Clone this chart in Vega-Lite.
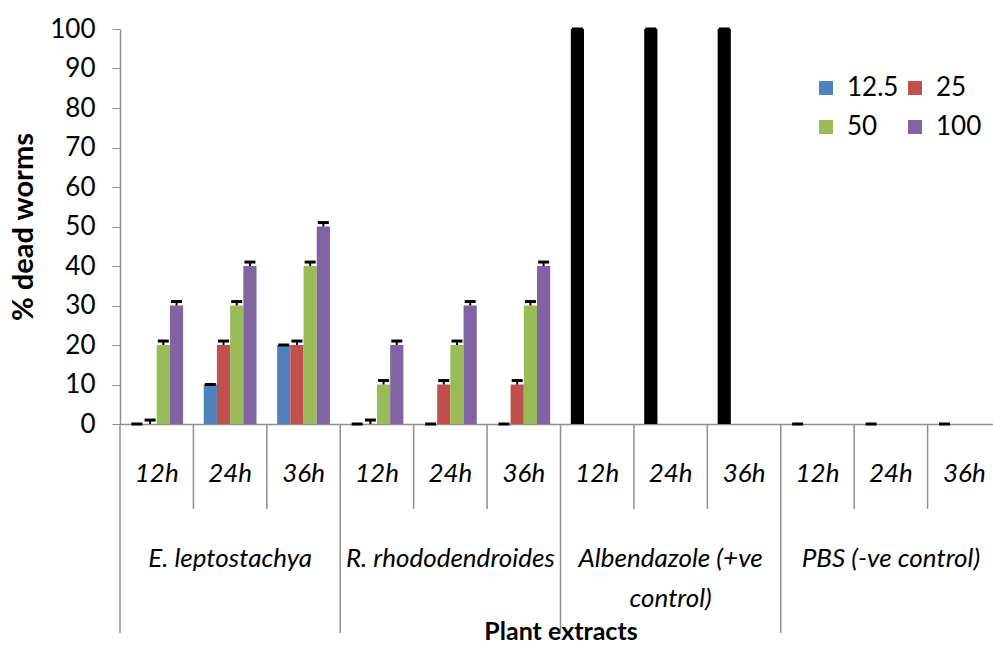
{
  "$schema": "https://vega.github.io/schema/vega-lite/v6.json",
  "width": 873,
  "height": 395,
  "autosize": {"type": "none"},
  "padding": {"left": 120, "top": 29, "right": 0, "bottom": 221},
  "background": "white",
  "config": {
    "font": "Lato",
    "view": {"stroke": null},
    "axis": {"domainColor": "#8f8f8f", "domainWidth": 1.5, "tickColor": "#8f8f8f", "labelColor": "#000000", "titleColor": "#000000", "grid": false},
    "axisY": {"labelOverlap": false, "labelBound": false, "labelFlush": false, "tickSize": 8, "labelFontSize": 26, "labelPadding": 17, "titleFontSize": 29, "titleFontWeight": "bold", "titlePadding": 11}
  },
  "datasets": {
    "mortality": [
      {"group": "E. leptostachya 12h", "extract": "E. leptostachya", "time": "12h", "dose": "12.5", "value": 0, "upper": 0},
      {"group": "E. leptostachya 12h", "extract": "E. leptostachya", "time": "12h", "dose": "25", "value": 0, "upper": 1},
      {"group": "E. leptostachya 12h", "extract": "E. leptostachya", "time": "12h", "dose": "50", "value": 20, "upper": 21},
      {"group": "E. leptostachya 12h", "extract": "E. leptostachya", "time": "12h", "dose": "100", "value": 30, "upper": 31},
      {"group": "E. leptostachya 24h", "extract": "E. leptostachya", "time": "24h", "dose": "12.5", "value": 10, "upper": 10},
      {"group": "E. leptostachya 24h", "extract": "E. leptostachya", "time": "24h", "dose": "25", "value": 20, "upper": 21},
      {"group": "E. leptostachya 24h", "extract": "E. leptostachya", "time": "24h", "dose": "50", "value": 30, "upper": 31},
      {"group": "E. leptostachya 24h", "extract": "E. leptostachya", "time": "24h", "dose": "100", "value": 40, "upper": 41},
      {"group": "E. leptostachya 36h", "extract": "E. leptostachya", "time": "36h", "dose": "12.5", "value": 20, "upper": 20},
      {"group": "E. leptostachya 36h", "extract": "E. leptostachya", "time": "36h", "dose": "25", "value": 20, "upper": 21},
      {"group": "E. leptostachya 36h", "extract": "E. leptostachya", "time": "36h", "dose": "50", "value": 40, "upper": 41},
      {"group": "E. leptostachya 36h", "extract": "E. leptostachya", "time": "36h", "dose": "100", "value": 50, "upper": 51},
      {"group": "R. rhododendroides 12h", "extract": "R. rhododendroides", "time": "12h", "dose": "12.5", "value": 0, "upper": 0},
      {"group": "R. rhododendroides 12h", "extract": "R. rhododendroides", "time": "12h", "dose": "25", "value": 0, "upper": 1},
      {"group": "R. rhododendroides 12h", "extract": "R. rhododendroides", "time": "12h", "dose": "50", "value": 10, "upper": 11},
      {"group": "R. rhododendroides 12h", "extract": "R. rhododendroides", "time": "12h", "dose": "100", "value": 20, "upper": 21},
      {"group": "R. rhododendroides 24h", "extract": "R. rhododendroides", "time": "24h", "dose": "12.5", "value": 0, "upper": 0},
      {"group": "R. rhododendroides 24h", "extract": "R. rhododendroides", "time": "24h", "dose": "25", "value": 10, "upper": 11},
      {"group": "R. rhododendroides 24h", "extract": "R. rhododendroides", "time": "24h", "dose": "50", "value": 20, "upper": 21},
      {"group": "R. rhododendroides 24h", "extract": "R. rhododendroides", "time": "24h", "dose": "100", "value": 30, "upper": 31},
      {"group": "R. rhododendroides 36h", "extract": "R. rhododendroides", "time": "36h", "dose": "12.5", "value": 0, "upper": 0},
      {"group": "R. rhododendroides 36h", "extract": "R. rhododendroides", "time": "36h", "dose": "25", "value": 10, "upper": 11},
      {"group": "R. rhododendroides 36h", "extract": "R. rhododendroides", "time": "36h", "dose": "50", "value": 30, "upper": 31},
      {"group": "R. rhododendroides 36h", "extract": "R. rhododendroides", "time": "36h", "dose": "100", "value": 40, "upper": 41},
      {"group": "Albendazole 12h", "extract": "Albendazole", "time": "12h", "dose": "12.5", "value": 100, "upper": 100},
      {"group": "Albendazole 24h", "extract": "Albendazole", "time": "24h", "dose": "12.5", "value": 100, "upper": 100},
      {"group": "Albendazole 36h", "extract": "Albendazole", "time": "36h", "dose": "12.5", "value": 100, "upper": 100},
      {"group": "PBS 12h", "extract": "PBS", "time": "12h", "dose": "12.5", "value": 0, "upper": 0},
      {"group": "PBS 24h", "extract": "PBS", "time": "24h", "dose": "12.5", "value": 0, "upper": 0},
      {"group": "PBS 36h", "extract": "PBS", "time": "36h", "dose": "12.5", "value": 0, "upper": 0}
    ],
    "groups": [
      {"group": "E. leptostachya 12h", "time": "12h", "label": "E. leptostachya"},
      {"group": "E. leptostachya 24h", "time": "24h", "label": "E. leptostachya"},
      {"group": "E. leptostachya 36h", "time": "36h", "label": "E. leptostachya"},
      {"group": "R. rhododendroides 12h", "time": "12h", "label": "R. rhododendroides"},
      {"group": "R. rhododendroides 24h", "time": "24h", "label": "R. rhododendroides"},
      {"group": "R. rhododendroides 36h", "time": "36h", "label": "R. rhododendroides"},
      {"group": "Albendazole 12h", "time": "12h", "label": "Albendazole (+ve\ncontrol)"},
      {"group": "Albendazole 24h", "time": "24h", "label": "Albendazole (+ve\ncontrol)"},
      {"group": "Albendazole 36h", "time": "36h", "label": "Albendazole (+ve\ncontrol)"},
      {"group": "PBS 12h", "time": "12h", "label": "PBS (-ve control)"},
      {"group": "PBS 24h", "time": "24h", "label": "PBS (-ve control)"},
      {"group": "PBS 36h", "time": "36h", "label": "PBS (-ve control)"}
    ]
  },
  "encoding": {
    "x": {
      "field": "group",
      "type": "nominal",
      "scale": {
        "domain": ["E. leptostachya 12h", "E. leptostachya 24h", "E. leptostachya 36h", "R. rhododendroides 12h", "R. rhododendroides 24h", "R. rhododendroides 36h", "Albendazole 12h", "Albendazole 24h", "Albendazole 36h", "PBS 12h", "PBS 24h", "PBS 36h"],
        "range": [0, 881],
        "paddingInner": 0,
        "paddingOuter": 0
      },
      "axis": {"labels": false, "ticks": false, "domain": true, "title": "Plant extracts", "titleFontSize": 25, "titleFontWeight": "bold", "titlePadding": 195}
    }
  },
  "layer": [
    {
      "data": {"name": "mortality"},
      "transform": [{"filter": "datum.extract !== 'Albendazole'"}],
      "mark": {"type": "bar"},
      "encoding": {
        "xOffset": {"field": "dose", "type": "nominal", "scale": {"domain": ["12.5", "25", "50", "100"], "paddingInner": 0, "paddingOuter": 0.78}},
        "y": {
          "field": "value",
          "type": "quantitative",
          "scale": {"domain": [0, 100], "nice": false},
          "axis": {"title": "% dead worms", "values": [0, 10, 20, 30, 40, 50, 60, 70, 80, 90, 100], "labelOverlap": false}
        },
        "color": {
          "field": "dose",
          "type": "nominal",
          "scale": {"domain": ["12.5", "25", "50", "100"], "range": ["#4F81BD", "#C0504D", "#9BBB59", "#8064A2"]},
          "legend": {"title": null, "orient": "none", "direction": "horizontal", "legendX": 693, "legendY": 46, "columns": 2, "symbolType": "square", "symbolSize": 196, "symbolStrokeWidth": 0, "labelFontSize": 26, "labelColor": "#000000", "labelOffset": 8, "rowPadding": 13, "columnPadding": 3}
        }
      }
    },
    {
      "data": {"name": "mortality"},
      "transform": [{"filter": "datum.extract === 'Albendazole'"}],
      "mark": {"type": "bar", "color": "#000000"},
      "encoding": {
        "xOffset": {"field": "dose", "type": "nominal"},
        "y": {"field": "value", "type": "quantitative", "axis": {"title": "% dead worms", "values": [0, 10, 20, 30, 40, 50, 60, 70, 80, 90, 100], "labelOverlap": false}}
      }
    },
    {
      "data": {"name": "mortality"},
      "mark": {"type": "rule", "color": "#000000", "strokeWidth": 2},
      "encoding": {
        "xOffset": {"field": "dose", "type": "nominal"},
        "y": {"field": "value", "type": "quantitative", "axis": {"title": "% dead worms", "values": [0, 10, 20, 30, 40, 50, 60, 70, 80, 90, 100], "labelOverlap": false}},
        "y2": {"field": "upper"}
      }
    },
    {
      "data": {"name": "mortality"},
      "mark": {"type": "tick", "color": "#000000", "size": 11, "thickness": 3, "opacity": 1},
      "encoding": {
        "xOffset": {"field": "dose", "type": "nominal"},
        "y": {"field": "upper", "type": "quantitative", "axis": {"title": "% dead worms", "values": [0, 10, 20, 30, 40, 50, 60, 70, 80, 90, 100], "labelOverlap": false}}
      }
    },
    {
      "data": {"name": "groups"},
      "transform": [{"filter": "datum.time !== '12h'"}],
      "mark": {"type": "rule", "color": "#8f8f8f", "strokeWidth": 1.5},
      "encoding": {
        "x": {"field": "group", "type": "nominal", "bandPosition": 0},
        "y": {"datum": 0, "type": "quantitative", "axis": {"title": "% dead worms", "values": [0, 10, 20, 30, 40, 50, 60, 70, 80, 90, 100], "labelOverlap": false}},
        "y2": {"datum": -21.5}
      }
    },
    {
      "data": {"name": "groups"},
      "transform": [{"filter": "datum.time === '12h'"}],
      "mark": {"type": "rule", "color": "#8f8f8f", "strokeWidth": 1.5},
      "encoding": {
        "x": {"field": "group", "type": "nominal", "bandPosition": 0},
        "y": {"datum": 0, "type": "quantitative", "axis": {"title": "% dead worms", "values": [0, 10, 20, 30, 40, 50, 60, 70, 80, 90, 100], "labelOverlap": false}},
        "y2": {"datum": -52.9}
      }
    },
    {
      "data": {"name": "groups"},
      "mark": {"type": "text", "fontSize": 26, "fontStyle": "italic", "color": "#000000", "baseline": "middle", "align": "center"},
      "encoding": {
        "y": {"datum": -12.7, "type": "quantitative", "axis": {"title": "% dead worms", "values": [0, 10, 20, 30, 40, 50, 60, 70, 80, 90, 100], "labelOverlap": false}},
        "text": {"field": "time"}
      }
    },
    {
      "data": {"name": "groups"},
      "transform": [{"filter": "datum.time === '24h'"}],
      "mark": {"type": "text", "fontSize": 26, "fontStyle": "italic", "color": "#000000", "baseline": "top", "align": "center", "lineBreak": "\n", "lineHeight": 40},
      "encoding": {
        "y": {"datum": -30.9, "type": "quantitative", "axis": {"title": "% dead worms", "values": [0, 10, 20, 30, 40, 50, 60, 70, 80, 90, 100], "labelOverlap": false}},
        "text": {"field": "label"}
      }
    }
  ]
}
